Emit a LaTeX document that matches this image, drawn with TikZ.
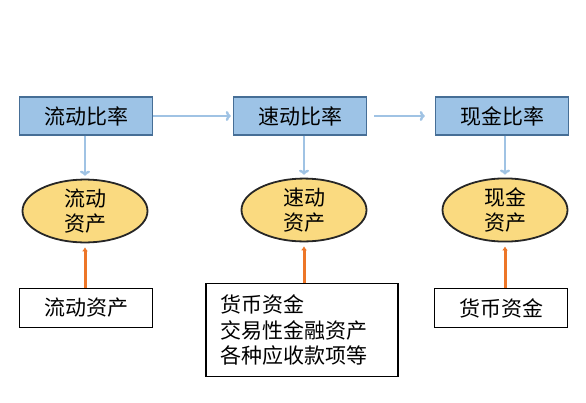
\documentclass[tikz,border=0pt]{standalone}
\usepackage{fontspec}
\setmainfont{Noto Sans CJK SC}
\usepackage{tikz}
\usetikzlibrary{positioning}
\usetikzlibrary{shapes.geometric}
\usetikzlibrary{arrows.meta}

\definecolor{ratiofill}{RGB}{157,195,230}
\definecolor{ratioedge}{RGB}{70,110,150}
\definecolor{assetfill}{RGB}{250,218,128}
\definecolor{flowblue}{RGB}{160,195,228}
\definecolor{feedorange}{RGB}{237,118,40}

\begin{document}
\begin{tikzpicture}[x=1pt, y=-1pt]

% Define styles for different elements
\tikzstyle{ratio} = [rectangle, minimum width=133pt, minimum height=38pt, inner sep=0pt, draw=ratioedge, line width=1.4pt, fill=ratiofill, font=\fontsize{21}{25}\selectfont]
\tikzstyle{asset} = [ellipse, minimum width=125pt, minimum height=60pt, inner sep=0pt, draw=black!85, line width=1.8pt, fill=assetfill, align=center, font=\fontsize{21}{25}\selectfont]
\tikzstyle{source} = [rectangle, minimum width=133pt, minimum height=39pt, inner sep=0pt, draw=black, line width=1.8pt, fill=white, font=\fontsize{21}{25.5}\selectfont]
\tikzstyle{flow} = [draw=flowblue, line width=2.4pt, -{To[length=5pt, width=10pt]}]
\tikzstyle{feed} = [draw=feedorange, line width=3pt, -{Latex[length=4pt, width=6pt]}]

\useasboundingbox (0,0) rectangle (586,402);

% Draw the nodes
\node (ratio1) [ratio] at (86,116) {流动比率};
\node (ratio2) [ratio] at (300,116) {速动比率};
\node (ratio3) [ratio] at (502,116) {现金比率};

\node (asset1) [asset] at (85,211) {流动\\资产};
\node (asset2) [asset] at (304,210) {速动\\资产};
\node (asset3) [asset] at (505,210) {现金\\资产};

\node (src1) [source] at (86,308) {流动资产};
\node (src2) [source, minimum width=192pt, minimum height=93pt, text width=164pt, inner xsep=14pt, align=left] at (302,330) {货币资金\\交易性金融资产\\各种应收款项等};
\node (src3) [source] at (501,308) {货币资金};

% Draw the arrows
\draw [flow, shorten >=2pt] (ratio1) -- (ratio2);
\draw [flow, shorten <=7pt, shorten >=10pt] (ratio2) -- (ratio3);
\draw [flow, shorten >=3pt] (asset1 |- ratio1.south) -- (asset1.north);
\draw [flow, shorten >=3pt] (asset2 |- ratio2.south) -- (asset2.north);
\draw [flow, shorten >=3pt] (asset3 |- ratio3.south) -- (asset3.north);

\draw [feed, shorten >=4pt] (asset1 |- src1.north) -- (asset1.south);
\draw [feed, shorten >=4pt] (asset2 |- src2.north) -- (asset2.south);
\draw [feed, shorten >=4pt] (asset3 |- src3.north) -- (asset3.south);
\end{tikzpicture}
\end{document}
